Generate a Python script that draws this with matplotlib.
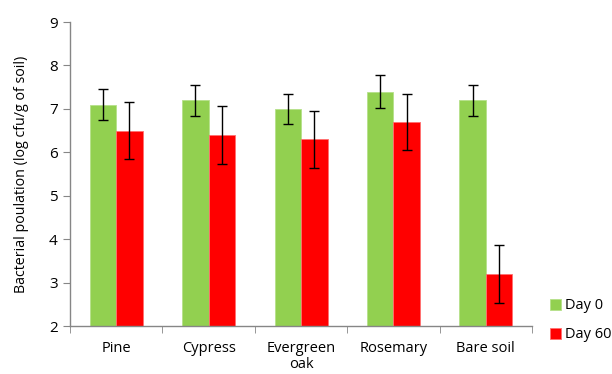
import matplotlib
matplotlib.use("Agg")
import matplotlib.pyplot as plt
import numpy as np

categories = ["Pine", "Cypress", "Evergreen\noak", "Rosemary", "Bare soil"]
day0 = [7.1, 7.2, 7.0, 7.4, 7.2]
day0_err = [0.36, 0.36, 0.35, 0.37, 0.36]
day60 = [6.5, 6.4, 6.3, 6.7, 3.2]
day60_err = [0.65, 0.66, 0.66, 0.65, 0.66]
series_names = ["Day 0", "Day 60"]

plt.rcParams["font.family"] = ["Open Sans", "DejaVu Sans"]

fig = plt.figure(figsize=(6.12, 3.74), dpi=100)
ax = fig.add_axes([0.1144, 0.1283, 0.755, 0.8128])

x = np.arange(len(categories))
w = 0.287
axis_col = "#868686"
err_kw = dict(ecolor="black", elinewidth=1.0, capsize=3.5, capthick=1.0)

ax.bar(x - w / 2, day0, w, color="#92D050", edgecolor="#b5e08a",
       linewidth=0.6, yerr=day0_err, error_kw=err_kw, label=series_names[0])
ax.bar(x + w / 2, day60, w, color="#FF0000", edgecolor="#ff7070",
       linewidth=0.6, yerr=day60_err, error_kw=err_kw, label=series_names[1])

ax.set_ylim(2, 9)
ax.set_xlim(-0.5, len(categories) - 0.5)
ax.set_yticks(range(2, 10))
ax.tick_params(axis="y", length=5, color=axis_col, labelsize=11, pad=4)

# category labels centred, tick marks on category boundaries
ax.set_xticks(x)
ax.set_xticklabels(categories, fontsize=10.5, linespacing=1.1)
ax.tick_params(axis="x", length=0, pad=11)
ax.set_xticks(np.arange(-0.5, len(categories)), minor=True)
ax.tick_params(axis="x", which="minor", length=5, color=axis_col)

for s in ["top", "right"]:
    ax.spines[s].set_visible(False)
for s in ["left", "bottom"]:
    ax.spines[s].set_color(axis_col)
    ax.spines[s].set_linewidth(1.0)

ax.set_ylabel("Bacterial poulation (log cfu/g of soil)", fontsize=10.3, labelpad=14)

leg = fig.legend(loc="upper left", bbox_to_anchor=(0.899, 0.202),
                 frameon=False, fontsize=10.5, handlelength=0.75, handleheight=0.75,
                 handletextpad=0.25, labelspacing=0.95, borderpad=0,
                 borderaxespad=0)

fig.savefig("out.png", dpi=100)
